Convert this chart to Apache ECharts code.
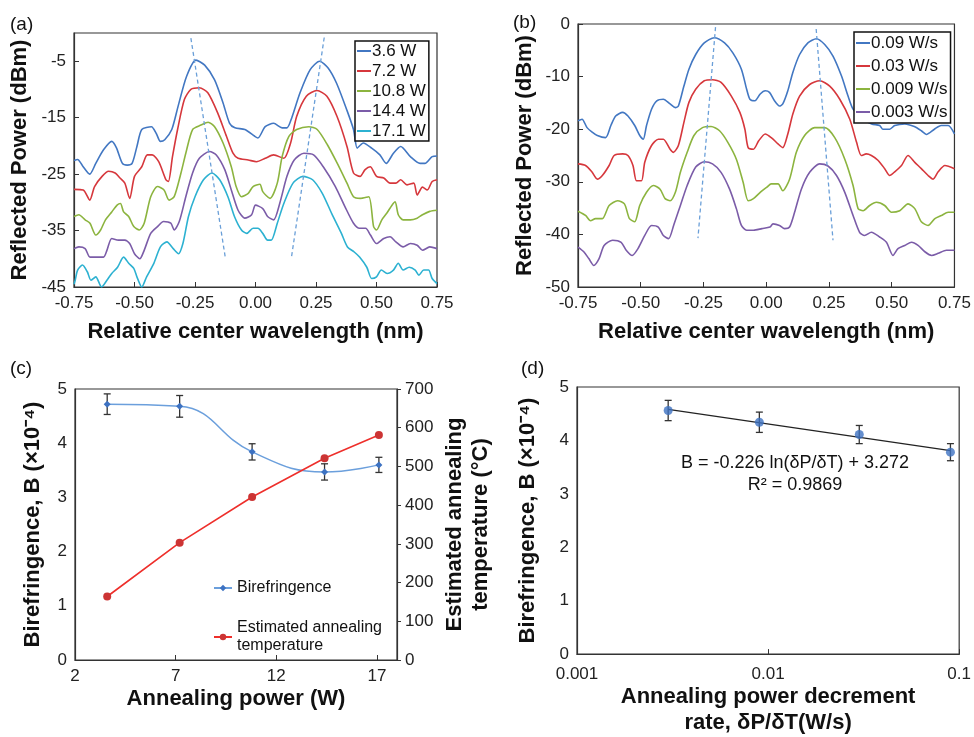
<!DOCTYPE html>
<html><head><meta charset="utf-8">
<script src="https://cdn.jsdelivr.net/npm/echarts@6/dist/echarts.min.js"></script>
<style>html,body{margin:0;padding:0;background:#fff}#c{width:974px;height:737px}</style>
</head><body><div id="c"></div>
<script>
const FONT = '"Liberation Sans", Arial, Helvetica, sans-serif';

// ---------- Panel (a): spectra vs annealing power ----------
const aNames = ['3.6 W', '7.2 W', '10.8 W', '14.4 W', '17.1 W'];
const a36 = [[-0.75,-22.6],[-0.735,-22.4],[-0.715,-23.5],[-0.685,-25.0],[-0.66,-23.1],[-0.628,-20.7],[-0.594,-19.2],[-0.575,-20.3],[-0.55,-23.1],[-0.53,-23.4],[-0.51,-23.1],[-0.49,-20.1],[-0.47,-17.1],[-0.43,-16.6],[-0.41,-17.8],[-0.393,-19.2],[-0.375,-18.9],[-0.346,-17.1],[-0.32,-13.0],[-0.285,-7.7],[-0.246,-4.8],[-0.21,-5.7],[-0.169,-8.3],[-0.134,-12.4],[-0.107,-16.0],[-0.085,-16.8],[-0.044,-17.1],[-0.003,-18.3],[0.01,-18.6],[0.04,-16.6],[0.075,-16.0],[0.11,-16.8],[0.13,-16.8],[0.15,-15.0],[0.184,-10.6],[0.226,-6.5],[0.265,-5.0],[0.30,-6.2],[0.335,-8.9],[0.377,-13.6],[0.405,-17.1],[0.42,-20.4],[0.435,-19.8],[0.445,-19.5],[0.48,-20.4],[0.514,-21.6],[0.54,-23.1],[0.57,-21.3],[0.60,-20.1],[0.64,-21.9],[0.68,-23.1],[0.70,-23.1],[0.73,-21.9],[0.75,-21.8]];
const a72 = [[-0.75,-27.7],[-0.712,-27.8],[-0.685,-29.6],[-0.665,-27.2],[-0.634,-25.4],[-0.607,-24.5],[-0.58,-24.8],[-0.56,-25.7],[-0.54,-26.6],[-0.52,-29.3],[-0.50,-25.4],[-0.47,-23.7],[-0.447,-21.6],[-0.427,-21.6],[-0.40,-22.8],[-0.37,-26.0],[-0.36,-26.3],[-0.343,-21.9],[-0.322,-17.1],[-0.294,-11.8],[-0.267,-10.0],[-0.232,-9.7],[-0.197,-10.6],[-0.156,-14.2],[-0.12,-18.3],[-0.093,-21.3],[-0.072,-22.2],[-0.03,-22.5],[0.004,-22.8],[0.04,-22.2],[0.075,-21.6],[0.117,-22.2],[0.145,-19.5],[0.17,-14.8],[0.21,-11.2],[0.254,-10.2],[0.295,-11.2],[0.337,-14.8],[0.378,-20.1],[0.405,-24.8],[0.432,-25.4],[0.453,-24.2],[0.474,-23.7],[0.50,-25.4],[0.53,-25.7],[0.556,-26.6],[0.58,-26.6],[0.60,-26.0],[0.626,-26.9],[0.654,-26.6],[0.668,-28.7],[0.69,-27.3],[0.71,-27.8],[0.73,-26.3],[0.75,-26.0]];
const a108 = [[-0.75,-32.5],[-0.73,-32.2],[-0.704,-33.1],[-0.684,-33.7],[-0.66,-35.8],[-0.64,-34.9],[-0.62,-33.1],[-0.594,-31.7],[-0.572,-30.5],[-0.558,-30.2],[-0.545,-31.7],[-0.524,-32.5],[-0.503,-34.3],[-0.48,-34.9],[-0.46,-33.7],[-0.433,-29.0],[-0.405,-27.2],[-0.378,-27.8],[-0.357,-29.6],[-0.336,-29.0],[-0.308,-24.8],[-0.288,-21.3],[-0.26,-17.1],[-0.225,-16.3],[-0.196,-15.8],[-0.169,-16.6],[-0.134,-19.5],[-0.10,-23.7],[-0.08,-27.2],[-0.058,-29.0],[-0.03,-28.4],[-0.01,-27.2],[0.018,-26.8],[0.03,-28.1],[0.06,-29.3],[0.09,-26.6],[0.11,-21.9],[0.138,-18.3],[0.17,-17.1],[0.22,-16.6],[0.255,-17.1],[0.297,-19.8],[0.338,-23.1],[0.378,-26.6],[0.405,-29.0],[0.433,-29.3],[0.468,-29.0],[0.488,-34.3],[0.50,-34.9],[0.522,-33.1],[0.543,-31.9],[0.564,-30.5],[0.577,-29.9],[0.59,-32.2],[0.61,-33.1],[0.64,-33.1],[0.668,-32.8],[0.69,-32.2],[0.72,-31.6],[0.75,-31.4]];
const a144 = [[-0.75,-38.2],[-0.73,-37.9],[-0.704,-38.2],[-0.684,-39.7],[-0.656,-39.7],[-0.628,-39.7],[-0.614,-38.5],[-0.594,-36.4],[-0.566,-36.7],[-0.54,-36.7],[-0.52,-37.3],[-0.50,-39.1],[-0.478,-40.0],[-0.46,-38.5],[-0.433,-35.5],[-0.405,-34.3],[-0.38,-33.4],[-0.35,-33.7],[-0.336,-34.9],[-0.315,-33.4],[-0.288,-29.0],[-0.26,-24.8],[-0.232,-22.2],[-0.19,-21.0],[-0.162,-21.6],[-0.127,-24.2],[-0.10,-27.8],[-0.072,-31.4],[-0.044,-32.8],[-0.016,-32.2],[0.0,-30.5],[0.03,-31.1],[0.05,-32.5],[0.075,-33.1],[0.10,-30.2],[0.13,-25.4],[0.16,-22.5],[0.20,-21.3],[0.24,-21.6],[0.28,-23.7],[0.33,-27.2],[0.37,-30.8],[0.405,-33.7],[0.43,-34.6],[0.455,-34.6],[0.475,-35.8],[0.50,-37.3],[0.53,-36.4],[0.556,-36.1],[0.58,-37.0],[0.61,-37.9],[0.64,-37.3],[0.668,-37.6],[0.69,-38.5],[0.72,-37.9],[0.75,-38.2]];
const a171 = [[-0.75,-44.5],[-0.745,-43.8],[-0.735,-42.0],[-0.715,-41.1],[-0.695,-42.3],[-0.68,-43.8],[-0.66,-43.2],[-0.636,-45.0],[-0.614,-43.8],[-0.594,-42.6],[-0.57,-41.5],[-0.545,-39.7],[-0.524,-40.8],[-0.503,-41.7],[-0.49,-43.2],[-0.47,-45.0],[-0.45,-43.2],[-0.42,-40.8],[-0.393,-37.9],[-0.366,-37.0],[-0.34,-38.2],[-0.318,-39.1],[-0.30,-37.3],[-0.277,-32.5],[-0.25,-29.0],[-0.215,-26.0],[-0.18,-24.8],[-0.148,-26.0],[-0.114,-29.0],[-0.087,-32.5],[-0.058,-34.9],[-0.036,-35.5],[-0.01,-34.6],[0.01,-34.6],[0.03,-35.5],[0.05,-36.7],[0.065,-36.7],[0.09,-33.7],[0.117,-30.2],[0.155,-26.6],[0.196,-25.4],[0.236,-26.0],[0.276,-28.4],[0.315,-32.0],[0.355,-35.5],[0.38,-37.9],[0.408,-38.8],[0.43,-39.7],[0.46,-41.5],[0.48,-43.5],[0.50,-43.2],[0.52,-42.0],[0.544,-42.6],[0.57,-42.0],[0.59,-40.8],[0.61,-42.0],[0.635,-41.5],[0.66,-42.0],[0.675,-42.9],[0.695,-42.0],[0.715,-42.0],[0.73,-43.5],[0.75,-44.4]];
const aGuideL = [[-0.267,-0.9],[-0.124,-40.0]];
const aGuideR = [[0.284,-0.8],[0.148,-39.9]];
const aYTicks = [-45,-35,-25,-15,-5];

// ---------- Panel (b): spectra vs power decrement rate ----------
const bNames = ['0.09 W/s', '0.03 W/s', '0.009 W/s', '0.003 W/s'];
const b009 = [[-0.75,-18.4],[-0.734,-18.1],[-0.714,-19.7],[-0.695,-20.5],[-0.673,-21.2],[-0.64,-21.6],[-0.619,-19.3],[-0.60,-17.5],[-0.572,-16.8],[-0.551,-17.5],[-0.524,-19.3],[-0.504,-21.2],[-0.49,-21.9],[-0.477,-19.3],[-0.457,-16.2],[-0.436,-14.6],[-0.41,-14.3],[-0.383,-15.2],[-0.362,-15.9],[-0.35,-15.6],[-0.328,-11.8],[-0.308,-8.6],[-0.281,-5.8],[-0.247,-3.6],[-0.207,-2.6],[-0.166,-3.6],[-0.133,-5.5],[-0.099,-8.6],[-0.078,-12.4],[-0.065,-14.3],[-0.045,-14.6],[-0.024,-13.3],[-0.004,-12.7],[0.013,-13.0],[0.033,-14.6],[0.053,-15.6],[0.066,-15.2],[0.086,-12.7],[0.106,-9.2],[0.133,-5.8],[0.166,-3.6],[0.20,-2.8],[0.233,-3.9],[0.266,-6.1],[0.30,-9.9],[0.326,-13.7],[0.346,-16.2],[0.38,-18.0],[0.42,-19.0],[0.452,-19.3],[0.465,-20.0],[0.492,-20.0],[0.512,-19.3],[0.552,-19.0],[0.59,-19.5],[0.618,-20.3],[0.638,-21.0],[0.67,-20.0],[0.697,-19.3],[0.725,-19.3],[0.75,-20.9]];
const b003 = [[-0.75,-26.6],[-0.72,-26.9],[-0.695,-28.1],[-0.673,-29.5],[-0.653,-28.8],[-0.626,-26.9],[-0.606,-25.0],[-0.572,-24.7],[-0.551,-25.0],[-0.531,-26.9],[-0.517,-29.8],[-0.497,-29.8],[-0.484,-26.3],[-0.457,-23.1],[-0.43,-21.9],[-0.41,-21.9],[-0.383,-23.8],[-0.37,-24.4],[-0.35,-23.1],[-0.328,-18.7],[-0.308,-14.9],[-0.281,-12.4],[-0.247,-10.8],[-0.214,-10.6],[-0.18,-11.1],[-0.139,-13.7],[-0.105,-16.8],[-0.085,-20.0],[-0.072,-23.5],[-0.051,-23.8],[-0.03,-22.2],[-0.004,-20.9],[0.02,-21.6],[0.047,-22.8],[0.066,-23.5],[0.086,-20.9],[0.106,-17.1],[0.133,-13.7],[0.173,-11.5],[0.213,-10.8],[0.253,-11.8],[0.293,-14.3],[0.333,-18.1],[0.36,-22.5],[0.379,-25.0],[0.399,-24.7],[0.419,-25.0],[0.445,-25.9],[0.472,-27.5],[0.492,-28.8],[0.512,-28.1],[0.539,-26.9],[0.565,-25.0],[0.592,-26.3],[0.618,-27.5],[0.645,-28.8],[0.665,-29.5],[0.685,-28.1],[0.712,-26.9],[0.75,-27.5]];
const b0009 = [[-0.75,-35.6],[-0.72,-36.4],[-0.70,-37.4],[-0.68,-37.0],[-0.653,-37.0],[-0.626,-34.5],[-0.592,-33.6],[-0.565,-34.2],[-0.545,-37.0],[-0.524,-37.6],[-0.504,-34.5],[-0.477,-32.0],[-0.45,-30.7],[-0.423,-31.4],[-0.403,-33.2],[-0.383,-33.6],[-0.362,-32.0],[-0.342,-28.2],[-0.315,-24.4],[-0.288,-21.2],[-0.254,-19.7],[-0.22,-19.5],[-0.186,-20.3],[-0.153,-22.5],[-0.119,-25.7],[-0.092,-30.1],[-0.072,-33.6],[-0.051,-33.2],[-0.024,-32.0],[0.003,-31.0],[0.02,-30.4],[0.047,-30.4],[0.066,-31.7],[0.093,-29.5],[0.12,-24.4],[0.153,-21.2],[0.193,-19.7],[0.233,-19.7],[0.273,-21.6],[0.313,-25.7],[0.346,-30.7],[0.366,-35.1],[0.386,-35.5],[0.412,-34.5],[0.439,-33.9],[0.472,-34.5],[0.499,-35.8],[0.532,-35.5],[0.565,-34.2],[0.592,-35.1],[0.618,-37.6],[0.645,-38.3],[0.672,-37.0],[0.698,-36.4],[0.725,-35.8],[0.75,-35.8]];
const b0003 = [[-0.75,-42.4],[-0.727,-43.3],[-0.707,-44.6],[-0.687,-45.9],[-0.666,-44.6],[-0.646,-42.1],[-0.612,-41.1],[-0.578,-41.5],[-0.558,-43.0],[-0.534,-44.0],[-0.511,-42.7],[-0.484,-40.2],[-0.457,-38.3],[-0.43,-38.6],[-0.41,-40.2],[-0.389,-40.8],[-0.369,-38.3],[-0.342,-34.5],[-0.315,-30.7],[-0.281,-27.2],[-0.247,-26.2],[-0.214,-26.6],[-0.18,-28.2],[-0.146,-31.4],[-0.119,-35.1],[-0.099,-38.3],[-0.078,-39.2],[-0.051,-39.2],[-0.017,-38.9],[0.015,-38.6],[0.027,-38.0],[0.053,-38.3],[0.073,-38.9],[0.093,-38.6],[0.113,-35.8],[0.14,-31.4],[0.173,-28.2],[0.213,-26.6],[0.246,-27.0],[0.28,-28.8],[0.313,-32.0],[0.346,-36.4],[0.372,-39.6],[0.392,-40.2],[0.419,-39.6],[0.452,-40.5],[0.479,-41.5],[0.505,-44.0],[0.525,-42.7],[0.552,-42.1],[0.579,-41.5],[0.605,-42.1],[0.632,-43.3],[0.659,-44.0],[0.685,-43.6],[0.718,-43.0],[0.75,-43.0]];
const bGuideL = [[-0.202,-0.6],[-0.272,-40.7]];
const bGuideR = [[0.199,-0.95],[0.266,-41.1]];

// ---------- Panel (c): birefringence & temperature vs power ----------
const cPower = [3.6, 7.2, 10.8, 14.4, 17.1];
const cBiref = [4.72, 4.68, 3.84, 3.47, 3.60];
const cBirefErr = [0.19, 0.20, 0.15, 0.15, 0.14];
const cTemp = [164, 303, 421, 521, 581];
const cXTicks = [2, 7, 12, 17];

// ---------- Panel (d): birefringence vs decrement rate ----------
const dRate = [0.003, 0.009, 0.03, 0.09];
const dBiref = [4.56, 4.34, 4.11, 3.78];
const dBirefErr = [0.19, 0.19, 0.17, 0.16];
const dFit = [[0.003, 4.58], [0.09, 3.81]];

const specColors = ['#4277c2', '#d6373c', '#8cb43f', '#7b5ca8', '#2cb1d1'];
const guideColor = '#6a9fd8';

function spectrum(name, data, color, idx) {
  return { name, type: 'line', xAxisIndex: idx, yAxisIndex: idx, data, symbol: 'none', showSymbol: false,
    smooth: 0.25, lineStyle: { color, width: 1.6 }, itemStyle: { color }, z: 3 };
}
function guide(data, idx) {
  return { type: 'line', xAxisIndex: idx, yAxisIndex: idx, data, symbol: 'none', silent: true,
    lineStyle: { color: guideColor, width: 1.3, type: [4, 3] }, z: 5 };
}
function errRender(params, api) {
  const x = api.value(0), lo = api.value(1), hi = api.value(2);
  const p1 = api.coord([x, lo]), p2 = api.coord([x, hi]);
  const w = 3.5;
  const st = { stroke: '#333', lineWidth: 1.3 };
  return { type: 'group', children: [
    { type: 'line', shape: { x1: p1[0], y1: p1[1], x2: p2[0], y2: p2[1] }, style: st },
    { type: 'line', shape: { x1: p1[0] - w, y1: p1[1], x2: p1[0] + w, y2: p1[1] }, style: st },
    { type: 'line', shape: { x1: p2[0] - w, y1: p2[1], x2: p2[0] + w, y2: p2[1] }, style: st }
  ]};
}

const axisLineStyle = { show: true, onZero: false, lineStyle: { color: '#333', width: 1.2 } };
const labelStyle = { fontFamily: FONT, fontSize: 17, color: '#222', margin: 8 };
const nameStyle = { fontFamily: FONT, fontSize: 22, fontWeight: 'bold', color: '#111', lineHeight: 26 };
const tickIn = { show: true, inside: true, length: 5, lineStyle: { color: '#333' } };
const legendText = { fontFamily: FONT, fontSize: 17, color: '#111', padding: [0, 0, 0, -4] };

const option = {
  animation: false,
  backgroundColor: '#fff',
  grid: [
    { left: 74, top: 33, width: 363, height: 254, show: true, borderColor: '#333', borderWidth: 1.2, backgroundColor: 'transparent' },
    { left: 578, top: 24, width: 377, height: 263, show: true, borderColor: '#333', borderWidth: 1.2, backgroundColor: 'transparent' },
    { left: 75, top: 389, width: 322, height: 271, show: true, borderColor: '#333', borderWidth: 1.2, backgroundColor: 'transparent' },
    { left: 577, top: 387, width: 383, height: 272, show: true, borderColor: '#333', borderWidth: 1.2, backgroundColor: 'transparent' }
  ],
  xAxis: [
    { gridIndex: 0, type: 'value', min: -0.75, max: 0.75, interval: 0.25, axisLine: axisLineStyle, axisTick: tickIn,
      axisLabel: Object.assign({}, labelStyle, { formatter: v => v.toFixed(2) }), splitLine: { show: false },
      name: 'Relative center wavelength (nm)', nameLocation: 'middle', nameGap: 32, nameTextStyle: nameStyle },
    { gridIndex: 1, type: 'value', min: -0.75, max: 0.75, interval: 0.25, axisLine: axisLineStyle, axisTick: tickIn,
      axisLabel: Object.assign({}, labelStyle, { formatter: v => v.toFixed(2) }), splitLine: { show: false },
      name: 'Relative center wavelength (nm)', nameLocation: 'middle', nameGap: 32, nameTextStyle: nameStyle },
    { gridIndex: 2, type: 'value', min: 2, max: 18, interval: 1, axisLine: axisLineStyle,
      axisTick: Object.assign({}, tickIn, { customValues: cXTicks }),
      axisLabel: Object.assign({}, labelStyle, { customValues: cXTicks }), splitLine: { show: false },
      name: 'Annealing power (W)', nameLocation: 'middle', nameGap: 26, nameTextStyle: nameStyle },
    { gridIndex: 3, type: 'log', logBase: 10, min: 0.001, max: 0.1, axisLine: axisLineStyle, axisTick: tickIn,
      axisLabel: Object.assign({}, labelStyle, { margin: 12, formatter: v => String(+v.toPrecision(3)) }), splitLine: { show: false },
      name: 'Annealing power decrement\nrate, δP/δT(W/s)', nameLocation: 'middle', nameGap: 25, nameTextStyle: nameStyle }
  ],
  yAxis: [
    { gridIndex: 0, type: 'value', min: -45, max: 0, interval: 5, axisLine: axisLineStyle,
      axisTick: Object.assign({}, tickIn, { customValues: aYTicks }),
      axisLabel: Object.assign({}, labelStyle, { customValues: aYTicks }), splitLine: { show: false },
      name: 'Reflected Power (dBm)', nameLocation: 'middle', nameGap: 41, nameRotate: 90, nameTextStyle: nameStyle },
    { gridIndex: 1, type: 'value', min: -50, max: 0, interval: 10, axisLine: axisLineStyle, axisTick: tickIn,
      axisLabel: labelStyle, splitLine: { show: false },
      name: 'Reflected Power (dBm)', nameLocation: 'middle', nameGap: 40, nameRotate: 90, nameTextStyle: nameStyle },
    { gridIndex: 2, type: 'value', min: 0, max: 5, interval: 1, axisLine: axisLineStyle, axisTick: { show: false },
      axisLabel: labelStyle, splitLine: { show: false },
      name: 'Birefringence, B (×10⁻⁴)', nameLocation: 'middle', nameGap: 29, nameRotate: 90, nameTextStyle: nameStyle },
    { gridIndex: 2, type: 'value', position: 'right', min: 0, max: 700, interval: 100, axisLine: axisLineStyle,
      axisTick: { show: true, inside: false, length: 4, lineStyle: { color: '#333' } },
      axisLabel: labelStyle, splitLine: { show: false },
      name: 'Estimated annealing\ntemperature (°C)', nameLocation: 'middle', nameGap: 45, nameRotate: 90, nameTextStyle: nameStyle },
    { gridIndex: 3, type: 'value', min: 0, max: 5, interval: 1, axisLine: axisLineStyle, axisTick: { show: false },
      axisLabel: labelStyle, splitLine: { show: false },
      name: 'Birefringence, B (×10⁻⁴)', nameLocation: 'middle', nameGap: 36, nameRotate: 90, nameTextStyle: nameStyle }
  ],
  legend: [
    { data: aNames, orient: 'vertical', left: 355, top: 41, backgroundColor: '#fff', borderColor: '#111', borderWidth: 1.5,
      padding: [1, 3, 1, 2], itemGap: 2, itemWidth: 14, itemHeight: 2, icon: 'rect',
      textStyle: Object.assign({ lineHeight: 18 }, legendText), z: 10 },
    { data: bNames, orient: 'vertical', left: 854, top: 32, backgroundColor: '#fff', borderColor: '#111', borderWidth: 1.5,
      padding: [1, 3, 1, 2], itemGap: 3, itemWidth: 14, itemHeight: 2, icon: 'rect',
      textStyle: Object.assign({ lineHeight: 20 }, legendText), z: 10 },
    { data: ['Birefringence', 'Estimated annealing temperature'], orient: 'vertical', left: 208, top: 574,
      itemGap: 22, itemWidth: 18, itemHeight: 8,
      formatter: n => n === 'Estimated annealing temperature' ? 'Estimated annealing\ntemperature' : n,
      textStyle: { fontFamily: FONT, fontSize: 16, color: '#111', lineHeight: 18 } }
  ],
  graphic: [
    { type: 'text', left: 10, top: 15, style: { text: '(a)', fontFamily: FONT, fontSize: 19, fill: '#111' } },
    { type: 'text', left: 513, top: 13, style: { text: '(b)', fontFamily: FONT, fontSize: 19, fill: '#111' } },
    { type: 'text', left: 10, top: 359, style: { text: '(c)', fontFamily: FONT, fontSize: 19, fill: '#111' } },
    { type: 'text', left: 521, top: 359, style: { text: '(d)', fontFamily: FONT, fontSize: 19, fill: '#111' } },
    { type: 'text', x: 795, y: 463, style: { text: 'B = -0.226 ln(δP/δT) + 3.272', fontFamily: FONT, fontSize: 18, fill: '#111', align: 'center', verticalAlign: 'middle' } },
    { type: 'text', x: 795, y: 485, style: { text: 'R² = 0.9869', fontFamily: FONT, fontSize: 18, fill: '#111', align: 'center', verticalAlign: 'middle' } }
  ],
  series: [
    spectrum(aNames[0], a36, specColors[0], 0),
    spectrum(aNames[1], a72, specColors[1], 0),
    spectrum(aNames[2], a108, specColors[2], 0),
    spectrum(aNames[3], a144, specColors[3], 0),
    spectrum(aNames[4], a171, specColors[4], 0),
    guide(aGuideL, 0), guide(aGuideR, 0),
    spectrum(bNames[0], b009, specColors[0], 1),
    spectrum(bNames[1], b003, specColors[1], 1),
    spectrum(bNames[2], b0009, specColors[2], 1),
    spectrum(bNames[3], b0003, specColors[3], 1),
    guide(bGuideL, 1), guide(bGuideR, 1),
    { name: 'Birefringence', type: 'line', xAxisIndex: 2, yAxisIndex: 2, smooth: 0.45,
      data: cPower.map((x, i) => [x, cBiref[i]]), symbol: 'diamond', symbolSize: 7,
      lineStyle: { color: '#6b9fdc', width: 1.5 }, itemStyle: { color: '#3d72c2' }, z: 4 },
    { type: 'custom', xAxisIndex: 2, yAxisIndex: 2, renderItem: errRender, encode: { x: 0, y: [1, 2] },
      data: cPower.map((x, i) => [x, cBiref[i] - cBirefErr[i], cBiref[i] + cBirefErr[i]]), z: 3, silent: true },
    { name: 'Estimated annealing temperature', type: 'line', xAxisIndex: 2, yAxisIndex: 3,
      data: cPower.map((x, i) => [x, cTemp[i]]), symbol: 'circle', symbolSize: 8,
      lineStyle: { color: '#ee2f2b', width: 1.6 }, itemStyle: { color: '#cc3434' }, z: 4 },
    { type: 'line', xAxisIndex: 3, yAxisIndex: 4, data: dFit, symbol: 'none', silent: true,
      lineStyle: { color: '#222', width: 1.3 }, z: 2 },
    { type: 'custom', xAxisIndex: 3, yAxisIndex: 4, renderItem: errRender, encode: { x: 0, y: [1, 2] },
      data: dRate.map((x, i) => [x, dBiref[i] - dBirefErr[i], dBiref[i] + dBirefErr[i]]), z: 3, silent: true },
    { type: 'scatter', xAxisIndex: 3, yAxisIndex: 4, data: dRate.map((x, i) => [x, dBiref[i]]),
      symbol: 'circle', symbolSize: 9, itemStyle: { color: '#3d72c2' }, z: 4 }
  ]
};

const chart = echarts.init(document.getElementById('c'), null, { renderer: 'canvas' });
chart.setOption(option);
</script>
</body></html>
